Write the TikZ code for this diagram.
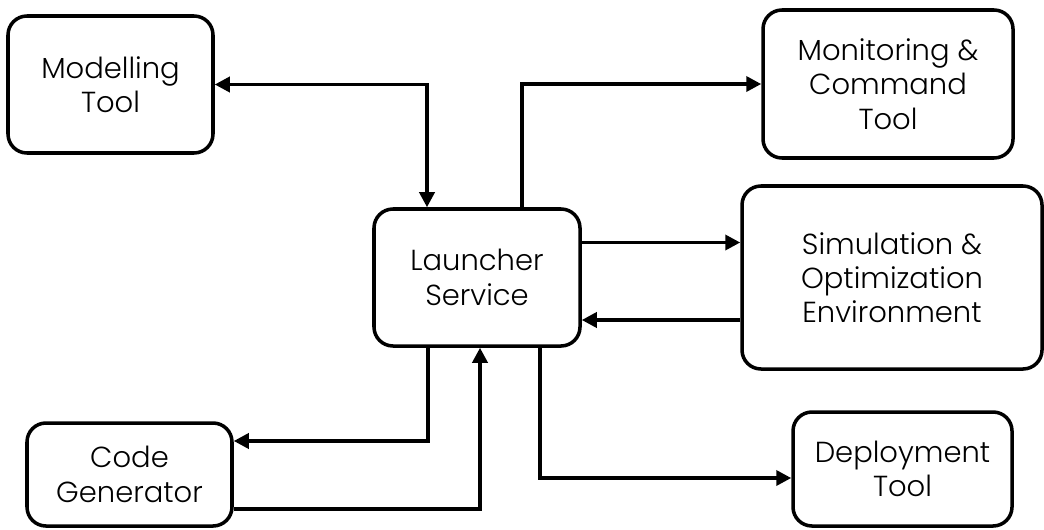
\documentclass[tikz,border=0pt]{standalone}
\usepackage{fontspec}
\setmainfont{Poppins}[UprightFont=* Light]
\usetikzlibrary{arrows.meta}

\tikzset{
    tool/.style={draw, line width=2pt, rounded corners=0.38cm, align=center,
        inner sep=0pt, font=\fontsize{16.5}{19.5}\selectfont},
    flow/.style={line width=2pt, -{Triangle[length=0.3cm,width=0.3cm]}},
    both/.style={line width=2pt, {Triangle[length=0.3cm,width=0.3cm]}-{Triangle[length=0.3cm,width=0.3cm]}}
}

\begin{document}
\begin{tikzpicture}
            \useasboundingbox (0,0) rectangle (20.88,10.58);
            % Bloques
            \node[tool, minimum width=4.1cm, minimum height=2.74cm] (model) at (2.21,8.89) {Modelling\\Tool};
            \node[tool, minimum width=4.12cm, minimum height=2.74cm] (launch) at (9.54,5.03) {Launcher\\Service};
            \node[tool, minimum width=5.0cm, minimum height=2.96cm] (monitor) at (17.76,8.9) {Monitoring \&\\Command\\Tool};
            \node[tool, minimum width=6.0cm, minimum height=3.66cm] (sim) at (17.84,5.03) {Simulation \&\\Optimization\\Environment};
            \node[tool, minimum width=4.1cm, minimum height=2.06cm] (code) at (2.59,1.09) {Code\\Generator};
            \node[tool, minimum width=4.38cm, minimum height=2.28cm] (deploy) at (18.05,1.2) {Deployment\\Tool};
            % Conexiones superiores
            \draw[both] (model.east) -| ([xshift=-1cm]launch.north);
            \draw[flow] ([xshift=0.9cm]launch.north) |- (monitor.west);
            % Simulacion
            \draw[flow] ([yshift=0.7cm]launch.east) -- ([yshift=0.7cm]sim.west);
            \draw[flow] ([yshift=-0.85cm]sim.west) -- ([yshift=-0.85cm]launch.east);
            % Conexiones inferiores
            \draw[flow] ([xshift=-0.98cm]launch.south) |- ([yshift=0.67cm]code.east);
            \draw[flow] ([yshift=-0.69cm]code.east) -| ([xshift=0.06cm]launch.south);
            \draw[flow] ([xshift=1.26cm]launch.south) |- ([yshift=-0.18cm]deploy.west);
\end{tikzpicture}
\end{document}
